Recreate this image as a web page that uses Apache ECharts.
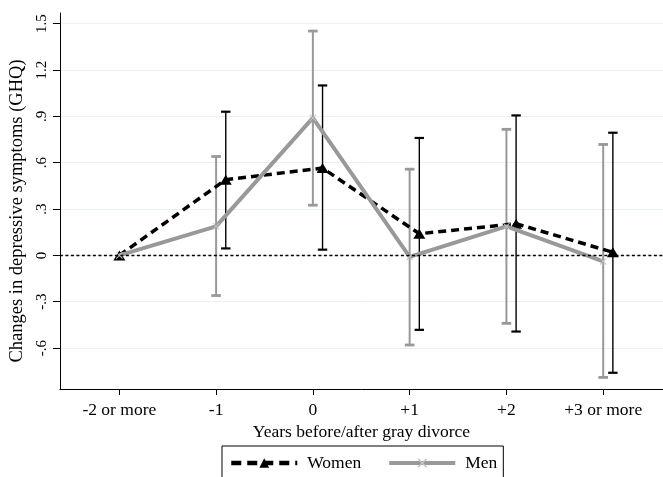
<!DOCTYPE html>
<html>
<head>
<meta charset="utf-8">
<script src="https://cdn.jsdelivr.net/npm/echarts@6/dist/echarts.min.js"></script>
<style>html,body{margin:0;padding:0;background:#fff}#c{width:663px;height:477px}</style>
</head>
<body>
<div id="c"></div>
<script>
// ---- data ----
var categories = ["-2 or more", "-1", "0", "+1", "+2", "+3 or more"];
var xPositions = [-2, -1, 0, 1, 2, 3];
var womenValues = [0, 0.49, 0.565, 0.14, 0.205, 0.02];
var womenLow    = [null, 0.045, 0.037, -0.482, -0.493, -0.76];
var womenHigh   = [null, 0.93, 1.10, 0.76, 0.906, 0.794];
var menValues   = [0, 0.188, 0.89, -0.01, 0.188, -0.039];
var menLow      = [null, -0.26, 0.325, -0.58, -0.44, -0.79];
var menHigh     = [null, 0.64, 1.452, 0.558, 0.816, 0.718];
var yTickValues = [-0.6, -0.3, 0, 0.3, 0.6, 0.9, 1.2, 1.5];
var yTickLabels = ["-.6", "-.3", "0", ".3", ".6", ".9", "1.2", "1.5"];

// ---- layout / style ----
var womenShift = 0.1;   // horizontal offset of women's marks (not applied to the reference category)
var FONT = 'Liberation Serif';

function sx(i, shift) { return xPositions[i] + (i === 0 ? 0 : shift); }
function pts(vals, shift) {
  return vals.map(function (v, i) { return [sx(i, shift), v]; });
}
function bars(lo, hi, shift) {
  var out = [];
  lo.forEach(function (l, i) {
    if (l !== null) out.push([sx(i, shift), l, hi[i]]);
  });
  return out;
}
function errRender(color, width, capHalf) {
  return function (params, api) {
    var x = api.value(0);
    var a = api.coord([x, api.value(1)]);
    var b = api.coord([x, api.value(2)]);
    var st = { stroke: color, lineWidth: width };
    var cs = { stroke: color, lineWidth: width + 0.8 };
    return {
      type: 'group',
      children: [
        { type: 'line', shape: { x1: a[0], y1: a[1], x2: b[0], y2: b[1] }, style: st },
        { type: 'line', shape: { x1: a[0] - capHalf, y1: a[1], x2: a[0] + capHalf, y2: a[1] }, style: cs },
        { type: 'line', shape: { x1: b[0] - capHalf, y1: b[1], x2: b[0] + capHalf, y2: b[1] }, style: cs }
      ]
    };
  };
}

var chart = echarts.init(document.getElementById('c'), null, { renderer: 'canvas' });
var xSym = 'path://M1,0L5,4L9,0L10,1L6,5L10,9L9,10L5,6L1,10L0,9L4,5L0,1Z';

chart.setOption({
  animation: false,
  textStyle: { fontFamily: FONT },
  grid: { left: 58, right: -7, top: 13, bottom: 88, containLabel: false },
  xAxis: {
    type: 'value', min: -2.614, max: 3.618,
    name: 'Years before/after gray divorce',
    nameLocation: 'middle', nameGap: 25,
    nameTextStyle: { fontFamily: FONT, fontSize: 17.5, color: '#000' },
    axisLine: { onZero: false, lineStyle: { color: '#000', width: 1 } },
    axisTick: { show: true, length: 6, customValues: xPositions, lineStyle: { color: '#000' } },
    axisLabel: {
      customValues: xPositions, margin: 12,
      fontFamily: FONT, fontSize: 17.5, color: '#000',
      formatter: function (v) { var i = xPositions.indexOf(Math.round(v)); return i >= 0 ? categories[i] : ''; }
    },
    splitLine: { show: false }
  },
  yAxis: {
    type: 'value', min: -0.865, max: 1.569,
    name: 'Changes in depressive symptoms (GHQ)',
    nameLocation: 'middle', nameGap: 25, nameRotate: 90,
    nameTextStyle: { fontFamily: FONT, fontSize: 18.5, color: '#000', padding: [0, 20, 0, 0] },
    axisLine: { show: true, onZero: false, lineStyle: { color: '#000', width: 1 } },
    axisTick: { show: true, length: 7, customValues: yTickValues, lineStyle: { color: '#000' } },
    axisLabel: {
      customValues: yTickValues, rotate: 90, margin: 10,
      fontFamily: FONT, fontSize: 15, color: '#000',
      formatter: function (v) {
        for (var i = 0; i < yTickValues.length; i++) if (Math.abs(yTickValues[i] - v) < 1e-6) return yTickLabels[i];
        return '';
      }
    },
    splitLine: { show: true, lineStyle: { color: '#eaf1f3', width: 1 } }
  },
  legend: {
    data: [
      { name: 'Women', lineStyle: { width: 4.5, type: [10, 6] } },
      { name: 'Men', lineStyle: { width: 4 } }
    ],
    left: 222, top: 446,
    orient: 'horizontal',
    borderColor: '#000', borderWidth: 1,
    padding: [8, 6, 12, 7],
    itemWidth: 66, itemHeight: 12, itemGap: 26,
    textStyle: { fontFamily: FONT, fontSize: 17.5, color: '#000', padding: [0, 0, 0, 5] }
  },
  series: [
    {
      name: 'WomenCI', type: 'custom', z: 2,
      renderItem: errRender('#000', 1.4, 4.7),
      encode: { x: 0, y: [1, 2] },
      data: bars(womenLow, womenHigh, womenShift)
    },
    {
      name: 'MenCI', type: 'custom', z: 2,
      renderItem: errRender('#999', 2, 4.8),
      encode: { x: 0, y: [1, 2] },
      data: bars(menLow, menHigh, 0)
    },
    {
      name: 'Women', type: 'line', z: 3,
      data: pts(womenValues, womenShift),
      symbol: 'triangle', symbolSize: [12, 10],
      itemStyle: { color: '#000' },
      lineStyle: { color: '#000', width: 3.5, type: [8, 5] },
      markLine: {
        silent: true, symbol: 'none', label: { show: false },
        lineStyle: { color: '#000', width: 1.3, type: [3, 2.5] },
        data: [{ yAxis: 0 }]
      }
    },
    {
      name: 'Men', type: 'line', z: 4,
      data: pts(menValues, 0),
      symbol: xSym, symbolSize: 7,
      itemStyle: { color: '#c4c4c4' },
      lineStyle: { color: '#999', width: 4 }
    }
  ]
});
</script>
</body>
</html>
